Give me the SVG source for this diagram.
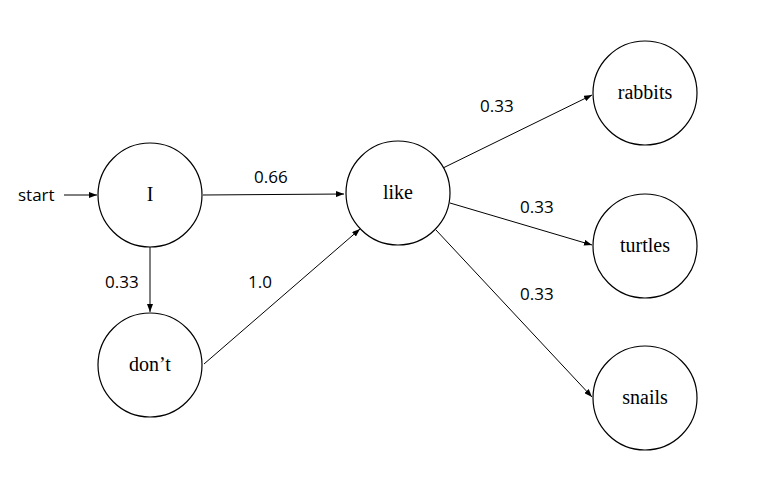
<svg xmlns="http://www.w3.org/2000/svg" width="769" height="482" viewBox="0 0 769 482">
<defs>
<marker id="ah" viewBox="0 0 8 6" refX="8" refY="3" markerWidth="8" markerHeight="6" markerUnits="userSpaceOnUse" orient="auto">
<path d="M0,0 L8,3 L0,6 Z" fill="#000"/>
</marker>
<style>
.node circle{fill:#fff;stroke:#000;stroke-width:1.2}
.node text{font-family:"Liberation Serif",serif;font-size:20px;text-anchor:middle;fill:#000}
.edge line{stroke:#000;stroke-width:1;marker-end:url(#ah)}
.lbl{font-family:"Open Sans","Liberation Sans",sans-serif;font-size:17px;fill:#000}
</style>
</defs>
<rect width="769" height="482" fill="#fff"/>
<g id="connectors" class="edge">
<line x1="64" y1="195" x2="97" y2="195"/>
<line x1="203" y1="195" x2="344" y2="194"/>
<line x1="150" y1="247" x2="150" y2="312"/>
<line x1="204" y1="364" x2="360" y2="229"/>
<line x1="443" y1="168" x2="592" y2="95"/>
<line x1="450" y1="203" x2="592" y2="245"/>
<line x1="436" y1="230" x2="592" y2="397"/>
</g>
<g id="labels">
<text class="lbl" x="18" y="201">start</text>
<text class="lbl" x="254" y="183">0.66</text>
<text class="lbl" x="105" y="288">0.33</text>
<text class="lbl" x="248" y="288">1.0</text>
<text class="lbl" x="480" y="112">0.33</text>
<text class="lbl" x="520" y="213">0.33</text>
<text class="lbl" x="520" y="300">0.33</text>
</g>
<g id="node-I" class="node"><circle cx="150" cy="195" r="52"/><text x="150" y="201">I</text></g>
<g id="node-dont" class="node"><circle cx="150" cy="365" r="52"/><text x="150" y="371">don’t</text></g>
<g id="node-like" class="node"><circle cx="398" cy="193" r="52"/><text x="398" y="199">like</text></g>
<g id="node-rabbits" class="node"><circle cx="645" cy="93" r="52"/><text x="645" y="99">rabbits</text></g>
<g id="node-turtles" class="node"><circle cx="645" cy="246" r="52"/><text x="645" y="252">turtles</text></g>
<g id="node-snails" class="node"><circle cx="645" cy="398" r="52"/><text x="645" y="404">snails</text></g>
</svg>
